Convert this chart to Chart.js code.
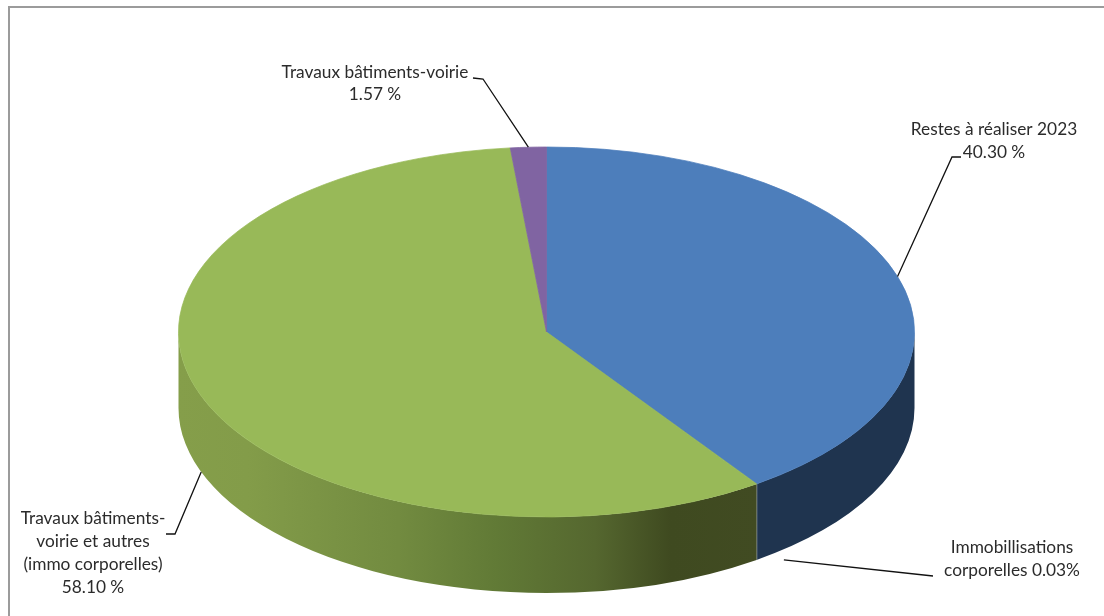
<!DOCTYPE html>
<html lang="fr">
<head>
<meta charset="utf-8">
<style>
  html, body { margin: 0; padding: 0; background: #fff; }
  canvas { display: block; }
</style>
<script src="https://cdn.jsdelivr.net/npm/chart.js@4/dist/chart.umd.min.js"></script>
</head>
<body>
<canvas id="myChart" width="1104" height="616"></canvas>
<script>
// data block
const categories = [
    'Restes à réaliser 2023',
    'Immobillisations corporelles',
    'Travaux bâtiments-voirie et autres (immo corporelles)',
    'Travaux bâtiments-voirie'
];
const shares = [40.30, 0.03, 58.10, 1.57];

const topColors = ['#4d7ebb', '#4d7ebb', '#98b958', '#8064a2'];
const wallColors = ['#1f344f', '#1f344f', null, '#4d3c61'];

// label text, elbow and end of the leader line, one entry per slice
const labelLines = [
    ['Restes à réaliser 2023', '40.30 %'],
    ['Immobillisations', 'corporelles 0.03%'],
    ['Travaux bâtiments-', 'voirie et autres', '(immo corporelles)', '58.10 %'],
    ['Travaux bâtiments-voirie', '1.57 %']
];
const labelCenterX = [994, 1012, 93, 375];
const labelFirstBaseline = [135, 553, 524, 78];
const labelLineHeight = [23, 23, 23, 22];
const leaderPaths = [
    [[952, 157], [961, 157]],
    [[933, 576]],
    [[175, 534], [166, 534]],
    [[483, 79], [473, 78]]
];

// pie look
const RADIUS = 368;
const SQUASH = 185 / 368;
const DEPTH = 76;

function greenWall(ctx) {
    const g = ctx.createLinearGradient(178, 0, 757, 0);
    g.addColorStop(0, '#859e4a');
    g.addColorStop(0.12, '#839c49');
    g.addColorStop(0.24, '#7b9445');
    g.addColorStop(0.38, '#728b40');
    g.addColorStop(0.55, '#617a36');
    g.addColorStop(0.72, '#55672f');
    g.addColorStop(0.85, '#3f4a20');
    g.addColorStop(1, '#414b22');
    return g;
}

const pie3d = {
    id: 'pie3d',
    beforeDatasetsDraw(chart) {
        const ctx = chart.ctx;
        const arcs = chart.getDatasetMeta(0).data;
        const cx = arcs[0].x;
        const cy = arcs[0].y;

        // frame, only top and left in the original
        ctx.save();
        ctx.strokeStyle = '#9b9b9b';
        ctx.lineWidth = 2;
        ctx.beginPath();
        ctx.moveTo(chart.width, 7);
        ctx.lineTo(9, 7);
        ctx.lineTo(9, chart.height);
        ctx.stroke();

        // side wall
        arcs.forEach((arc, i) => {
            const from = Math.max(arc.startAngle, 0);
            const to = Math.min(arc.endAngle, Math.PI);
            if (to <= from) return;
            const ry = arc.outerRadius * SQUASH;
            ctx.beginPath();
            ctx.ellipse(cx, cy, arc.outerRadius, ry, 0, from, to);
            ctx.ellipse(cx, cy + DEPTH, arc.outerRadius, ry, 0, to, from, true);
            ctx.closePath();
            ctx.fillStyle = wallColors[i] || greenWall(ctx);
            ctx.fill();
        });
        ctx.restore();

        // the library's own arcs get flattened into an ellipse
        ctx.save();
        ctx.translate(0, cy);
        ctx.scale(1, SQUASH);
        ctx.translate(0, -cy);
    },
    afterDatasetsDraw(chart) {
        const ctx = chart.ctx;
        ctx.restore();

        const arcs = chart.getDatasetMeta(0).data;
        ctx.save();
        ctx.font = '17.3px Lato, "Open Sans", sans-serif';
        ctx.textAlign = 'center';
        ctx.textBaseline = 'alphabetic';
        arcs.forEach((arc, i) => {
            const mid = (arc.startAngle + arc.endAngle) / 2;
            let x = arc.x + Math.cos(mid) * arc.outerRadius;
            let y = arc.y + Math.sin(mid) * arc.outerRadius * SQUASH;
            if (Math.sin(mid) > 0 && i > 0) y += DEPTH;
            if (i === 1) x += 27; // this one stops short of the wall

            ctx.strokeStyle = '#111';
            ctx.lineWidth = 1.3;
            ctx.beginPath();
            ctx.moveTo(x, y);
            leaderPaths[i].forEach(p => ctx.lineTo(p[0], p[1]));
            ctx.stroke();

            ctx.fillStyle = '#2b2b2b';
            labelLines[i].forEach((line, n) => {
                ctx.fillText(line, labelCenterX[i], labelFirstBaseline[i] + n * labelLineHeight[i]);
            });
        });
        ctx.restore();
    }
};

//config block
const config = {
    type: 'pie',
    data: {
        labels: categories,
        datasets: [{
            data: shares,
            backgroundColor: topColors,
            // same colour as the fill, hides the seams between slices
            borderColor: topColors,
            borderWidth: 1,
            radius: RADIUS
        }]
    },
    options: {
        responsive: false,
        animation: false,
        devicePixelRatio: 1,
        layout: { padding: { top: 48, right: 11 } },
        plugins: {
            legend: { display: false },
            tooltip: { enabled: false }
        }
    },
    plugins: [pie3d]
};

//render block
const myChart = new Chart(document.getElementById('myChart'), config);
</script>
</body>
</html>
